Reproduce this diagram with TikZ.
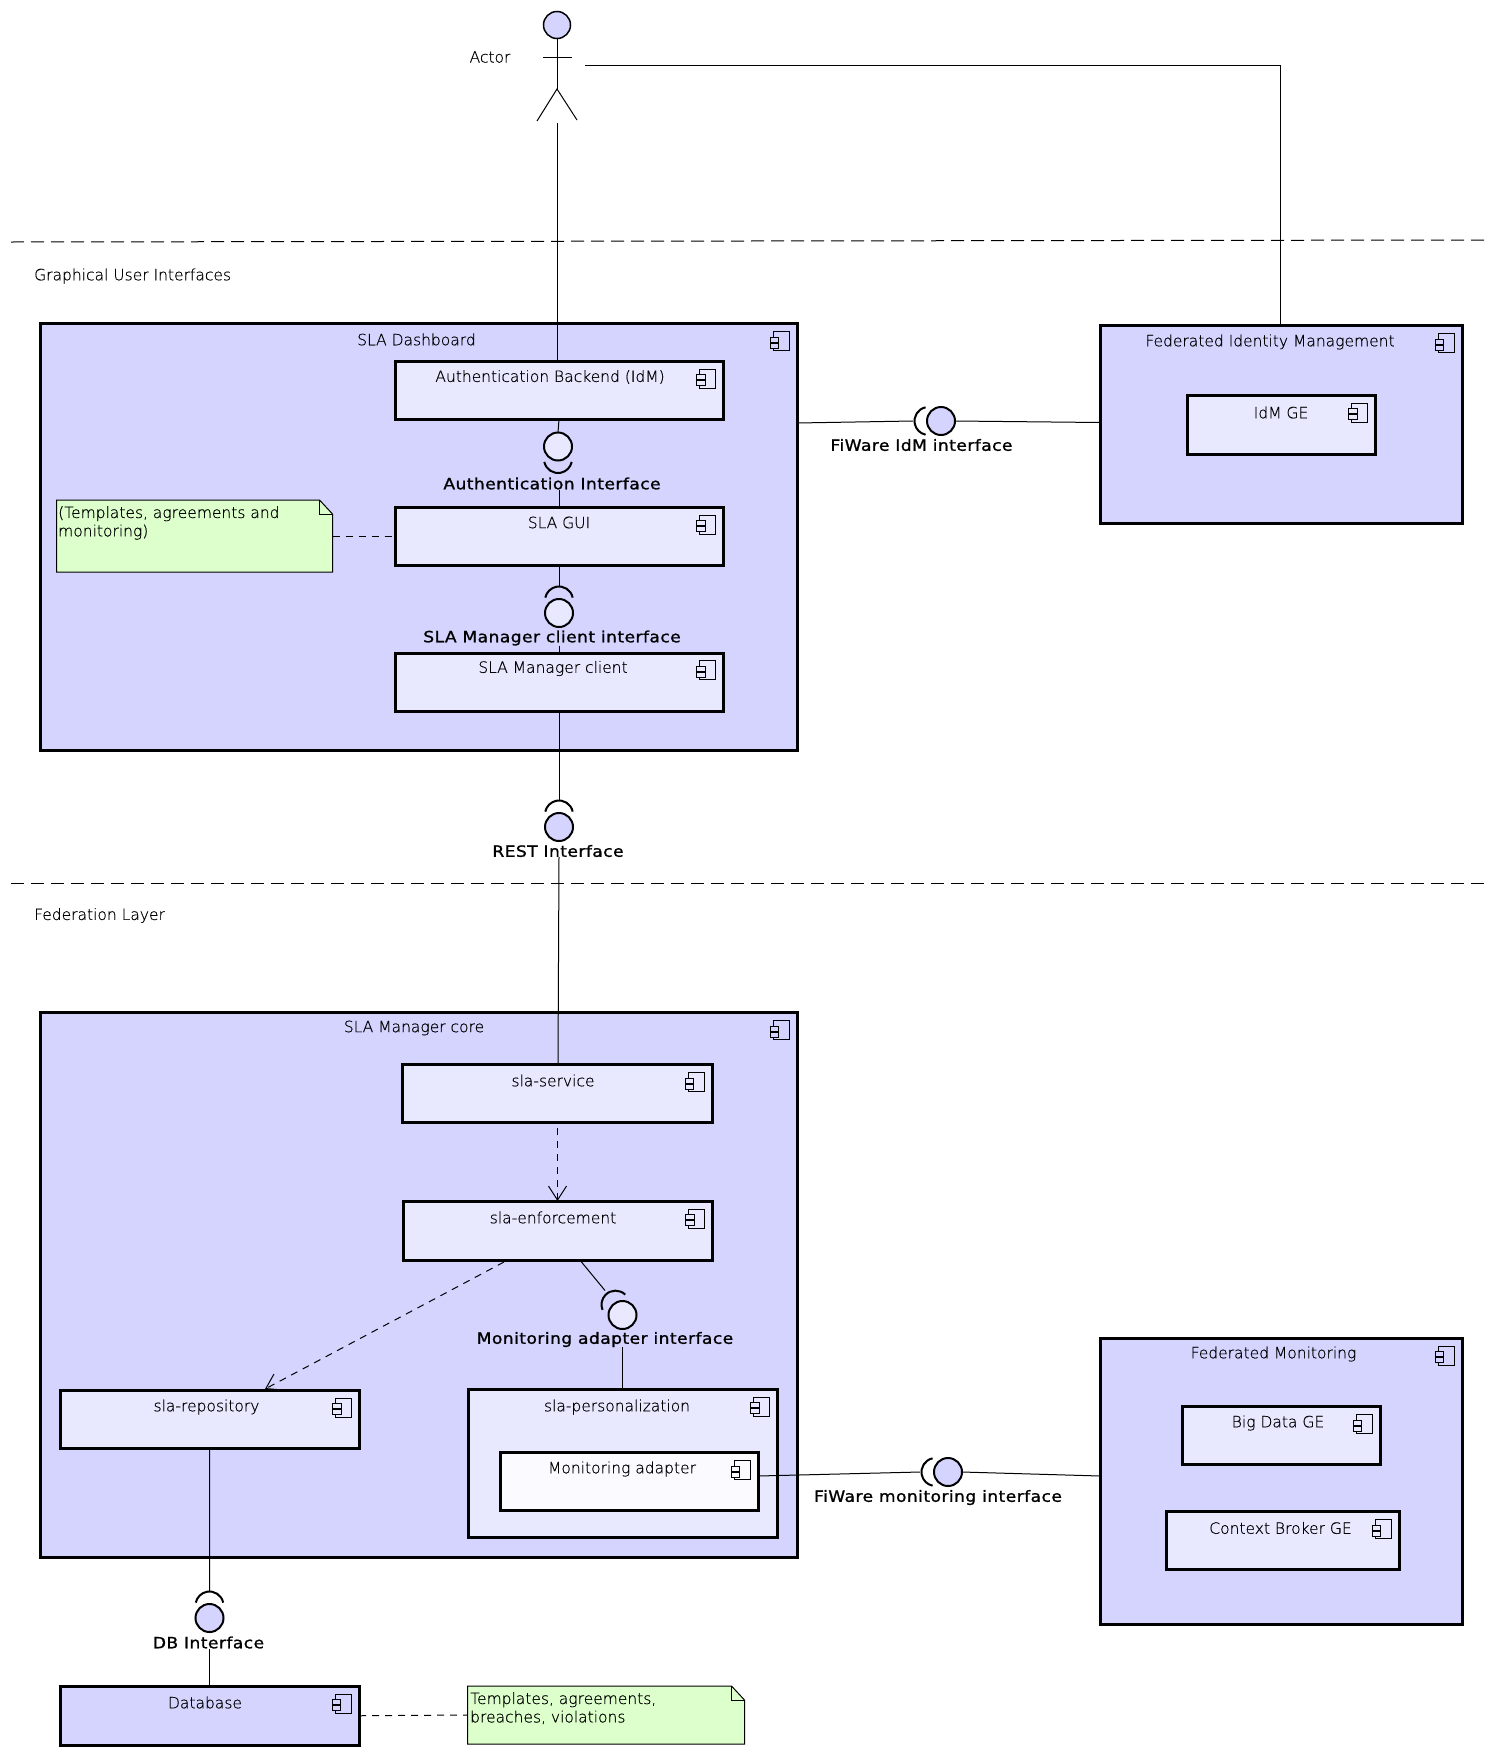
\documentclass[tikz,border=0pt]{standalone}
\usepackage{fontspec}
\setmainfont{DejaVu Sans}[UprightFont={* ExtraLight}, UprightFeatures={FakeBold=0.4}]
\newfontfamily\boldlabel[FakeBold=1.2, FakeStretch=1.1, LetterSpace=3]{DejaVu Sans}
\usepackage{tikz}
\usetikzlibrary{arrows.meta, positioning}

\definecolor{outerfill}{HTML}{D4D4FF}
\definecolor{innerfill}{HTML}{E8E8FF}
\definecolor{deepfill}{HTML}{FAFAFF}
\definecolor{notefill}{HTML}{DDFFCC}

\tikzset{
    compicon/.pic={
        \draw[line width=1pt] (-16,0) rectangle (0,19);
        \draw[pic actions, line width=1pt] (-19,5.5) rectangle (-10.5,10.5);
        \draw[pic actions, line width=1pt] (-19,11.5) rectangle (-10.5,16.5);
    },
    socket/.pic={
        \draw[line width=2pt] ([shift={(12.5pt,0pt)}]-78:14pt) arc[start angle=-78, end angle=78, radius=14pt];
    }
}

\begin{document}
\begin{tikzpicture}[
            x=1pt, y=-1pt,
            box/.style={draw=black, line width=3pt, rectangle, inner sep=0pt, outer sep=0pt},
            outerbox/.style={box, fill=outerfill},
            innerbox/.style={box, fill=innerfill},
            deepbox/.style={box, fill=deepfill},
            lab/.style={font=\fontsize{15.5}{18}\selectfont, inner sep=0pt},
            ifacelab/.style={font=\fontsize{15.5}{18}\selectfont\boldlabel, inner sep=0pt},
            iface/.style={circle, draw=black, line width=2pt, minimum size=28pt, inner sep=0pt, outer sep=0pt},
            outeriface/.style={iface, fill=outerfill},
            inneriface/.style={iface, fill=innerfill},
            link/.style={draw=black, line width=1pt},
            dep/.style={link, dash pattern=on 7pt off 6pt, -{Straight Barb[length=14pt, width=18pt]}},
            notelink/.style={link, dash pattern=on 7pt off 6pt},
            sep/.style={draw=black, line width=1pt, dash pattern=on 13pt off 7pt},
            notebox/.style={rectangle, inner sep=0pt, outer sep=0pt},
            noteedge/.style={draw=black, line width=1pt, fill=notefill},
            notetext/.style={font=\fontsize{15.5}{18.4}\selectfont, inner sep=0pt, align=left, anchor=north west}
        ]
            \useasboundingbox (0,0) rectangle (1495,1756);

            % Actor
            \node[outeriface, minimum size=27pt, line width=1.5pt] (actorhead) at (557,25) {};
            \coordinate (actorhip) at (557,89);
            \coordinate (actorfoot) at (557.5,123);
            \coordinate (actorarm) at (585,65);
            \draw[link] (actorhead.south) -- (actorhip);
            \draw[link] (543,57) -- (572,57);
            \draw[link] (537,121) -- (actorhip) -- (577,120);
            \node[lab] (actorlab) at (490,57) {Actor};

            % Layer separators
            \coordinate (guileft) at (11,242);
            \coordinate (guiright) at (1487,240);
            \coordinate (fedleft) at (11,883);
            \coordinate (fedright) at (1487,883);
            \draw[sep] (guileft) -- (guiright);
            \draw[sep] (fedleft) -- (fedright);
            \node[lab, anchor=west] (guilab) at (34,276) {Graphical User Interfaces};
            \node[lab, anchor=west] (fedlab) at (34,915.5) {Federation Layer};

            % SLA Dashboard
            \node[outerbox, minimum width=756.5pt, minimum height=427pt] (dash) at (418.75,537) {};
            \pic[fill=outerfill] at ([shift={(-8,8)}]dash.north east) {compicon};
            \node[lab] (dashlab) at (416.5,339.5) {SLA Dashboard};

            \node[innerbox, minimum width=328pt, minimum height=58pt] (authbackend) at (559,390.5) {};
            \pic[fill=innerfill] at ([shift={(-7.5,7.5)}]authbackend.north east) {compicon};
            \node[lab] (authbackendlab) at (550,377) {Authentication Backend (IdM)};

            \node[innerbox, minimum width=328pt, minimum height=58pt] (gui) at (559,536.5) {};
            \pic[fill=innerfill] at ([shift={(-7.5,7.5)}]gui.north east) {compicon};
            \node[lab] (guitext) at (559,522.5) {SLA GUI};

            \node[innerbox, minimum width=328pt, minimum height=58pt] (client) at (559,682) {};
            \pic[fill=innerfill] at ([shift={(-7.5,7.5)}]client.north east) {compicon};
            \node[lab] (clientlab) at (553,668.5) {SLA Manager client};

            \node[inneriface] (authiface) at (558,446.5) {};
            \pic[rotate=-90] at (authiface) {socket};
            \node[ifacelab] (authifacelab) at (552,483.5) {Authentication Interface};
            \draw[link] (authbackend.south) -- (authiface.north);
            \draw[link] (authifacelab.south -| gui.north) -- (gui.north);

            \node[inneriface] (clientiface) at (559,613) {};
            \pic[rotate=90] at (clientiface) {socket};
            \node[ifacelab] (clientifacelab) at (552,638) {SLA Manager client interface};
            \draw[link] (gui.south) -- ([yshift=27pt]clientiface.center);
            \draw[link] (clientifacelab.south -| client.north) -- (client.north);

            % Note on the GUI
            \node[notebox, minimum width=276pt, minimum height=72pt] (guinote) at (194.5,536) {};
            \draw[noteedge] (guinote.south west) -- (guinote.north west) -- ([xshift=-13pt]guinote.north east)
                -- ([yshift=-14pt]guinote.north east) -- (guinote.south east) -- cycle;
            \draw[line width=1pt] ([xshift=-13pt]guinote.north east) -- ([xshift=-13pt, yshift=-14pt]guinote.north east) -- ([yshift=-14pt]guinote.north east);
            \node[notetext] (guinotetext) at (58,506) {(Templates, agreements and\\monitoring)};
            \draw[notelink] (guinote.east |- gui) -- (gui.west);

            % Federated Identity Management
            \node[outerbox, minimum width=362pt, minimum height=198pt] (fim) at (1281,424.5) {};
            \pic[fill=outerfill] at ([shift={(-8,8)}]fim.north east) {compicon};
            \node[lab] (fimlab) at (1270,342) {Federated Identity Management};

            \node[innerbox, minimum width=188.5pt, minimum height=59.5pt] (idm) at (1281.25,425) {};
            \pic[fill=innerfill] at ([shift={(-8,8)}]idm.north east) {compicon};
            \node[lab] (idmlab) at (1281,412.5) {IdM GE};

            \node[outeriface] (idmiface) at (941,421) {};
            \pic[rotate=180] at (idmiface) {socket};
            \node[ifacelab] (idmifacelab) at (921.5,445) {FiWare IdM interface};
            \draw[link] ([yshift=-2pt]dash.east |- idmiface) -- ([xshift=-14pt]idmiface.west);
            \draw[link] (idmiface.east) -- ([yshift=-1.5pt]fim.west |- idmiface);

            % Actor connections
            \draw[link] (actorfoot) -- (actorfoot |- authbackend.north);
            \draw[link] (actorarm) -| ([xshift=-1pt]fim.north);

            % REST interface
            \node[outeriface] (restiface) at (559,827) {};
            \pic[rotate=90] at (restiface) {socket};
            \node[ifacelab] (restifacelab) at (558,851) {REST Interface};
            \draw[link] (client.south) -- ([yshift=27pt]restiface.center);

            % SLA Manager core
            \node[outerbox, minimum width=756.5pt, minimum height=544.5pt] (core) at (418.75,1284.75) {};
            \pic[fill=outerfill] at ([shift={(-8,8)}]core.north east) {compicon};
            \node[lab] (corelab) at (414,1028) {SLA Manager core};

            \node[innerbox, minimum width=310pt, minimum height=58pt] (service) at (557,1093.5) {};
            \pic[fill=innerfill] at ([shift={(-8,8)}]service.north east) {compicon};
            \node[lab] (servicelab) at (553,1080.5) {sla-service};

            \node[innerbox, minimum width=309.5pt, minimum height=59pt] (enforcement) at (557.75,1230.5) {};
            \pic[fill=innerfill] at ([shift={(-8,8)}]enforcement.north east) {compicon};
            \node[lab] (enforcementlab) at (553,1217.5) {sla-enforcement};

            \node[innerbox, minimum width=299.5pt, minimum height=58pt] (repository) at (209.75,1419) {};
            \pic[fill=innerfill] at ([shift={(-8,8)}]repository.north east) {compicon};
            \node[lab] (repositorylab) at (206.5,1407) {sla-repository};

            \node[innerbox, minimum width=309.5pt, minimum height=148.5pt] (personalization) at (622.75,1463.25) {};
            \pic[fill=innerfill] at ([shift={(-8,8)}]personalization.north east) {compicon};
            \node[lab] (personalizationlab) at (617,1407) {sla-personalization};

            \node[deepbox, minimum width=257.5pt, minimum height=58pt] (adapter) at (629.25,1481.5) {};
            \pic[fill=deepfill] at ([shift={(-8,8)}]adapter.north east) {compicon};
            \node[lab] (adapterlab) at (622,1469) {Monitoring adapter};

            \draw[link] (restifacelab.south -| restiface) -- (558,1065);
            \coordinate (depstart) at (557.5,1128);
            \draw[dep] (depstart) -- (depstart |- enforcement.north);
            \coordinate (repostart) at (504,1262);
            \coordinate (repoend) at (265,1389);
            \draw[dep] (repostart) -- (repoend);

            \node[inneriface] (adapteriface) at (622.5,1315) {};
            \pic[rotate=124] at (adapteriface) {socket};
            \node[ifacelab] (adapterifacelab) at (605,1339.5) {Monitoring adapter interface};
            \coordinate (adapterlinkstart) at (581.5,1262);
            \coordinate (adapterlinkend) at (605,1290.5);
            \draw[link] (adapterlinkstart) -- (adapterlinkend);
            \draw[link] (adapterifacelab.south -| adapteriface) -- (adapteriface |- personalization.north);

            % Federated Monitoring
            \node[outerbox, minimum width=361.5pt, minimum height=286pt] (fedmon) at (1281.25,1481) {};
            \pic[fill=outerfill] at ([shift={(-8,8)}]fedmon.north east) {compicon};
            \node[lab] (fedmonlab) at (1273.5,1354) {Federated Monitoring};

            \node[innerbox, minimum width=197.5pt, minimum height=57.5pt] (bigdata) at (1281.25,1435.25) {};
            \pic[fill=innerfill] at ([shift={(-8,8)}]bigdata.north east) {compicon};
            \node[lab] (bigdatalab) at (1278,1423) {Big Data GE};

            \node[innerbox, minimum width=233pt, minimum height=58pt] (broker) at (1282.5,1540.5) {};
            \pic[fill=innerfill] at ([shift={(-8,8)}]broker.north east) {compicon};
            \node[lab] (brokerlab) at (1280.5,1528) {Context Broker GE};

            \node[outeriface] (moniface) at (948,1472) {};
            \pic[rotate=180] at (moniface) {socket};
            \node[ifacelab] (monifacelab) at (938,1497.5) {FiWare monitoring interface};
            \draw[link] ([yshift=-4pt]adapter.east |- moniface) -- ([xshift=-14pt]moniface.west);
            \draw[link] (moniface.east) -- ([yshift=-4pt]fedmon.west |- moniface);

            % Database
            \node[outerbox, minimum width=299pt, minimum height=59.5pt] (database) at (209.5,1715.75) {};
            \pic[fill=outerfill] at ([shift={(-8,8)}]database.north east) {compicon};
            \node[lab] (databaselab) at (205,1702.5) {Database};

            \node[outeriface] (dbiface) at (209.5,1618) {};
            \pic[rotate=90] at (dbiface) {socket};
            \node[ifacelab] (dbifacelab) at (208.5,1642.5) {DB Interface};
            \draw[link] (repository.south) -- ([yshift=27pt]dbiface.center);
            \draw[link] (dbifacelab.south -| dbiface) -- (dbiface |- database.north);

            % Note on the database
            \node[notebox, minimum width=277pt, minimum height=58pt] (dbnote) at (606,1715) {};
            \draw[noteedge] (dbnote.south west) -- (dbnote.north west) -- ([xshift=-13pt]dbnote.north east)
                -- ([yshift=-14pt]dbnote.north east) -- (dbnote.south east) -- cycle;
            \draw[line width=1pt] ([xshift=-13pt]dbnote.north east) -- ([xshift=-13pt, yshift=-14pt]dbnote.north east) -- ([yshift=-14pt]dbnote.north east);
            \node[notetext] (dbnotetext) at (470,1692) {Templates, agreements,\\breaches, violations};
            \draw[notelink] (database.east) -- (dbnote.west);

        \end{tikzpicture}
\end{document}
